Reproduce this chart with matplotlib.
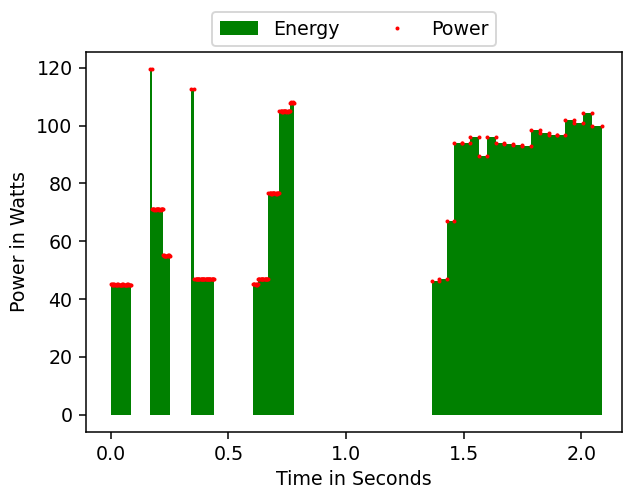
import matplotlib
matplotlib.use("Agg")
import matplotlib.pyplot as plt
import numpy as np

# sample boundaries (seconds) and measured power (watts) per interval, one list pair per burst
edges_a = [0.000, 0.005, 0.011, 0.016, 0.022, 0.027, 0.032, 0.038, 0.043, 0.049, 0.054,
           0.059, 0.065, 0.070, 0.075, 0.081, 0.086]
power_a = [45.2, 45.0, 45.1, 44.9, 45.0, 45.1, 45.0, 44.9, 45.0, 45.1, 45.0, 44.9, 45.0,
           45.1, 45.0, 44.9]

edges_b = [0.166, 0.174, 0.180, 0.186, 0.191, 0.196, 0.201, 0.207, 0.212, 0.217, 0.222,
           0.227, 0.232, 0.237, 0.242, 0.247, 0.252]
power_b = [119.5, 71.0, 71.1, 70.9, 71.0, 71.0, 71.1, 70.9, 71.0, 71.0,
           55.1, 55.0, 54.9, 55.0, 55.1, 55.0]

edges_c = [0.343, 0.356, 0.361, 0.367, 0.372, 0.377, 0.382, 0.388, 0.393, 0.398, 0.403,
           0.409, 0.414, 0.419, 0.424, 0.430, 0.435, 0.440]
power_c = [112.5, 47.0, 47.1, 47.0, 46.9, 47.0, 47.1, 47.0, 47.0, 46.9, 47.1, 47.0, 47.0,
           47.1, 46.9, 47.0, 47.1]

edges_d = [0.604, 0.610, 0.616, 0.621, 0.627, 0.632, 0.638, 0.643, 0.648, 0.654, 0.659,
           0.665, 0.670, 0.675, 0.680, 0.686, 0.691, 0.696, 0.701, 0.706, 0.711, 0.717,
           0.722, 0.727, 0.732, 0.737, 0.742, 0.747, 0.752, 0.757, 0.762, 0.768, 0.774,
           0.780]
power_d = [45.1, 45.2, 45.0, 45.1,
           46.8, 47.0, 46.9, 47.0, 46.8, 47.0, 46.9, 47.0,
           76.6, 76.7, 76.5, 76.6, 76.7, 76.6, 76.5, 76.6, 76.7,
           104.9, 105.0, 104.8, 105.0, 104.9, 105.0, 104.8, 105.0, 104.9,
           107.8, 108.0, 107.9]

edges_e = [1.367, 1.397, 1.428, 1.460, 1.492, 1.527, 1.564, 1.601, 1.636, 1.673, 1.711,
           1.748, 1.786, 1.825, 1.861, 1.897, 1.932, 1.969, 2.009, 2.047, 2.089]
power_e = [46.4, 47.0, 67.1, 94.1, 94.1, 96.2, 89.6, 96.0, 93.8, 93.5, 93.2, 93.1, 98.5,
           97.3, 96.7, 96.6, 102.0, 101.0, 104.2, 99.8]

bursts = [(edges_a, power_a), (edges_b, power_b), (edges_c, power_c),
          (edges_d, power_d), (edges_e, power_e)]

x_ticks = [0.0, 0.5, 1.0, 1.5, 2.0]
y_ticks = [0, 20, 40, 60, 80, 100, 120]

dpi = 137
fig = plt.figure(figsize=(4.548, 3.57), dpi=dpi)
ax = fig.add_axes([0.138, 0.1166, 0.8604, 0.7771])

for i, (edges, power) in enumerate(bursts):
    edges = np.array(edges)
    power = np.array(power)
    start = edges[:-1]
    end = edges[1:]
    # energy = area of each bar (power * dt)
    bars = ax.bar(start, power, width=end - start, align="edge", color="green",
                  linewidth=0)
    # power sample at both ends of each interval
    dots, = ax.plot(np.concatenate([start, end]), np.concatenate([power, power]),
                    linestyle="none", marker="o", markersize=2.1, markeredgewidth=0,
                    color="red")
    if i == 0:
        energy_handle = bars
        power_handle = dots

ax.set_xlim(-0.105, 2.173)
ax.set_ylim(-5.975, 125.475)
ax.set_xticks(x_ticks)
ax.set_yticks(y_ticks)
ax.set_xlabel("Time in Seconds", labelpad=3)
ax.set_ylabel("Power in Watts")

ax.legend([energy_handle, power_handle], ["Energy", "Power"], loc="lower center",
          bbox_to_anchor=(0.5, 1.0), ncol=2, borderaxespad=0.3)

fig.savefig("out.png", dpi=dpi)
